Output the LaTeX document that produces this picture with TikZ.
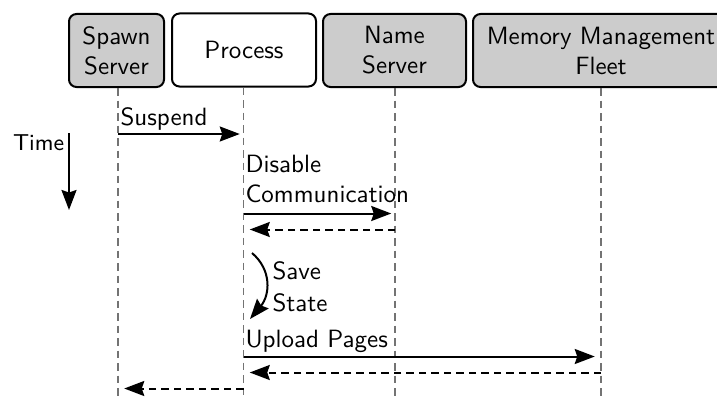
\documentclass[tikz,border=0pt]{standalone}
\usetikzlibrary{arrows.meta}
\begin{document}
\begin{tikzpicture}[x=0.4pt,y=-0.4pt,font=\sffamily,
  actor/.style={draw,line width=0.8pt,rounded corners=3pt,minimum height=29.2pt,align=center,inner sep=1pt,fill=gray!40},
  life/.style={gray!90!black,densely dashed,line width=0.6pt},
  msg/.style={-{Stealth[length=8pt,width=6pt,inset=1pt]},line width=0.8pt,shorten >=1.5pt},
  ret/.style={msg,densely dashed,shorten >=2.5pt},
  lbl/.style={inner sep=0pt,align=left}]
\useasboundingbox (0,0) rectangle (717,399);
\clip (0,0) rectangle (717,399);
% actors
\node[actor,minimum width=38pt] (spawn) at (116.5,50.5) {Spawn\\Server};
\node[actor,minimum width=57.6pt,fill=white] (proc) at (244,50) {Process};
\node[actor,minimum width=57.2pt] (name) at (394.5,50.5) {Name\\Server};
\node[actor,minimum width=102.4pt] (mem) at (601,50.5) {Memory Management\\Fleet};
% lifeline ends
\coordinate (spawnE) at (118,400);
\coordinate (procE) at (243.5,400);
\coordinate (nameE) at (395,400);
\coordinate (memE) at (601,400);
\draw[life] (spawn.south -| spawnE) -- (spawnE);
\draw[life] (proc.south -| procE) -- (procE);
\draw[life] (name.south -| nameE) -- (nameE);
\draw[life] (mem.south -| memE) -- (memE);
% time
\node[lbl,anchor=base west,font=\sffamily\fontsize{9.2}{11}\selectfont] (time) at (12.5,150) {Time};
\coordinate (t1) at (69,133);
\coordinate (t2) at (69,210);
\draw[msg,shorten >=0pt] (t1) -- (t2);
% suspend
\coordinate (s1) at (118,134);
\coordinate (s2) at (243.5,134);
\node[lbl,anchor=base west] (susp) at (120,125) {Suspend};
\draw[msg] (s1) -- (s2);
% disable communication
\node[lbl,anchor=north west] (dis) at (245,154.5) {Disable\\Communication};
\coordinate (d1) at (243.5,213.5);
\coordinate (d2) at (395,213.5);
\draw[msg] (d1) -- (d2);
\coordinate (d3) at (395,229.5);
\coordinate (d4) at (243.5,229.5);
\draw[ret] (d3) -- (d4);
% save state
\coordinate (ss1) at (252,253);
\coordinate (ss2) at (250,319);
\draw[msg,shorten >=0pt] (ss1) .. controls (272,270) and (270,295) .. (ss2);
\node[lbl,anchor=north west] (save) at (272,261) {Save\\[0.8pt]State};
% upload pages
\node[lbl,anchor=base west] (up) at (245,347) {Upload Pages};
\coordinate (u1) at (243.5,356.5);
\coordinate (u2) at (601,356.5);
\draw[msg,shorten >=2.5pt] (u1) -- (u2);
\coordinate (u3) at (601,372.5);
\coordinate (u4) at (243.5,372.5);
\draw[ret] (u3) -- (u4);
\coordinate (f1) at (243.5,388.5);
\coordinate (f2) at (118,388.5);
\draw[ret] (f1) -- (f2);
\end{tikzpicture}
\end{document}
